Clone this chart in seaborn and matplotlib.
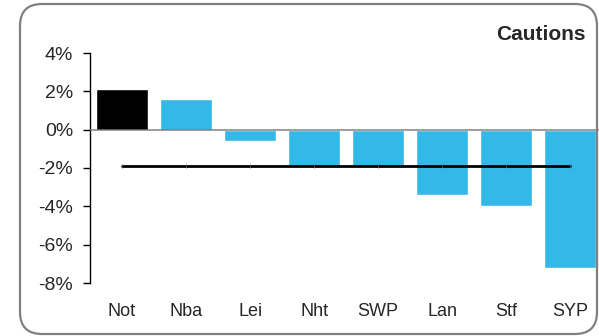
import numpy as np
import matplotlib
matplotlib.use('Agg')
import matplotlib.pyplot as plt
import seaborn as sns
from matplotlib.patches import FancyBboxPatch
from matplotlib.transforms import IdentityTransform
from matplotlib.ticker import FuncFormatter

# Data (% change)
forces = ['Not', 'Nba', 'Lei', 'Nht', 'SWP', 'Lan', 'Stf', 'SYP']
change = [2.1, 1.6, -0.6, -1.9, -1.9, -3.4, -4.0, -7.2]
average = -1.9
highlight = 'Not'

BLUE = '#34B8E7'

sns.set_theme(style='white')
plt.rcParams['font.family'] = ['Liberation Sans', 'DejaVu Sans']

W, H, DPI = 599, 336, 100
fig = plt.figure(figsize=(W / DPI, H / DPI), dpi=DPI)
ax = fig.add_axes([90 / W, 1 - 283 / H, 509 / W, 230 / H])

palette = {f: ('black' if f == highlight else BLUE) for f in forces}
sns.barplot(x=forces, y=change, hue=forces, palette=palette, legend=False,
            width=0.82, saturation=1, ax=ax, zorder=2)

# zero line
ax.axhline(0, color='#707070', lw=1.2, zorder=3, alpha=0.8)

# average line across the category centres
xs = np.arange(len(forces))
ax.plot(xs, np.full(len(forces), average), color='black', lw=2, zorder=4,
        marker='|', markersize=3, markeredgewidth=0.6, markeredgecolor='#555555')

ax.set_ylim(-8, 4)
ax.set_xlim(-0.5, 7.45)
ax.set_yticks(np.arange(-8, 5, 2))
ax.yaxis.set_major_formatter(FuncFormatter(lambda v, p: f'{v:.0f}%'))
ax.tick_params(axis='y', left=True, length=5, width=1, color='black',
               labelsize=14, pad=7)
ax.tick_params(axis='x', bottom=False, labelsize=13, pad=8.5)

for s in ['top', 'right', 'bottom']:
    ax.spines[s].set_visible(False)
ax.spines['left'].set_color('black')
ax.spines['left'].set_linewidth(1)

ax.set_xlabel('')
ax.set_ylabel('')

fig.text(586 / W, 1 - 35 / H, 'Cautions', ha='right', va='center',
         fontsize=15, fontweight='bold')

# rounded frame around the whole chart
frame = FancyBboxPatch((20, 2), 577, 330,
                       boxstyle='round,pad=0,rounding_size=22',
                       transform=IdentityTransform(), fill=False,
                       edgecolor='#808080', lw=1.6)
fig.patches.append(frame)

fig.savefig('out.png', dpi=DPI)
